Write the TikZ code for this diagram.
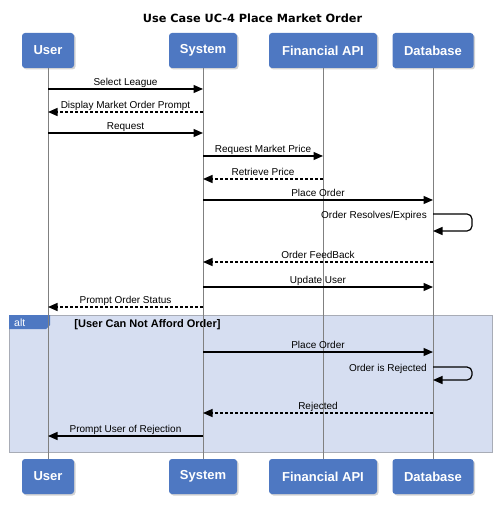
\documentclass[tikz,border=0pt]{standalone}
\usepackage{fontspec}
\setmainfont{Liberation Sans}
\newfontfamily\titlefont{DejaVu Sans}
\usetikzlibrary{arrows.meta,shadows}
\definecolor{boxblue}{HTML}{4E78C2}
\definecolor{altfill}{HTML}{D6DEF1}
\definecolor{altborder}{HTML}{A8ACB6}
\definecolor{lifegray}{HTML}{808080}
\tikzset{
 part/.style={fill=boxblue, rounded corners=3pt, text=white,
   font=\fontsize{13}{14}\selectfont\bfseries, minimum height=35pt, inner sep=0pt,
   drop shadow={shadow xshift=1.5pt,shadow yshift=-1.5pt,opacity=0.35}},
 life/.style={draw=lifegray, line width=1pt},
 msg/.style={line width=1.2pt, -{Triangle[length=9.5pt,width=8pt]}},
 reply/.style={msg, dash pattern=on 3pt off 2pt},
 lbl/.style={font=\fontsize{10}{11}\selectfont, inner sep=0pt, anchor=base},
 lblr/.style={lbl, anchor=base east},
}
\begin{document}
\begin{tikzpicture}[x=1pt,y=-1pt]
\useasboundingbox (0,0) rectangle (498,510);
\def\xu{48}\def\xs{203}\def\xf{323}\def\xd{433}
% title
\node[font=\titlefont\bfseries\fontsize{11.3}{13}\selectfont, anchor=base, inner sep=0pt] (title) at (252.5,22.5) {Use Case UC-4 Place Market Order};
% alt frame
\node[draw=altborder, fill=altfill, line width=0.8pt, minimum width=483pt, minimum height=137pt, inner sep=0pt, anchor=north west] (alt) at (9,315) {};
\fill[boxblue] (alt.north west) -- (50,315) -- (50,325) -- (46,329) -- (9,329) -- cycle;
\node[text=white, font=\fontsize{10.5}{11}\selectfont, anchor=base west, inner sep=0pt] (altlbl) at (14,326) {alt};
\node[font=\fontsize{11}{12}\selectfont\bfseries, anchor=base, inner sep=0pt] (guard) at (147.5,327) {[User Can Not Afford Order]};
% participants
\node[part, minimum width=52pt] (uT) at (\xu,50.5) {User};
\node[part, minimum width=68pt] (sT) at (\xs,50.5) {System};
\node[part, minimum width=108pt] (fT) at (\xf,50.5) {Financial API};
\node[part, minimum width=81pt] (dT) at (\xd,50.5) {Database};
\node[part, minimum width=52pt] (uB) at (\xu,476.5) {User};
\node[part, minimum width=68pt] (sB) at (\xs,476.5) {System};
\node[part, minimum width=108pt] (fB) at (\xf,476.5) {Financial API};
\node[part, minimum width=81pt] (dB) at (\xd,476.5) {Database};
% lifelines
\draw[life] (uT.south) -- (uB.north);
\draw[life] (sT.south) -- (sB.north);
\draw[life] (fT.south) -- (fB.north);
\draw[life] (dT.south) -- (dB.north);
% message anchor points
\coordinate (a1) at (\xu,89);  \coordinate (b1) at (\xs,89);
\coordinate (a2) at (\xs,112); \coordinate (b2) at (\xu,112);
\coordinate (a3) at (\xu,133); \coordinate (b3) at (\xs,133);
\coordinate (a4) at (\xs,156); \coordinate (b4) at (\xf,156);
\coordinate (a5) at (\xf,179); \coordinate (b5) at (\xs,179);
\coordinate (a6) at (\xs,200); \coordinate (b6) at (\xd,200);
\coordinate (a7) at (\xd,214); \coordinate (b7) at (\xd,231);
\coordinate (a8) at (\xd,262); \coordinate (b8) at (\xs,262);
\coordinate (a9) at (\xs,287); \coordinate (b9) at (\xd,287);
\coordinate (a10) at (\xs,307); \coordinate (b10) at (\xu,307);
\coordinate (a11) at (\xs,352); \coordinate (b11) at (\xd,352);
\coordinate (a12) at (\xd,367); \coordinate (b12) at (\xd,380);
\coordinate (a13) at (\xd,413); \coordinate (b13) at (\xs,413);
\coordinate (a14) at (\xs,436); \coordinate (b14) at (\xu,436);
% messages
\draw[msg] (a1) -- (b1);
\node[lbl] (l1) at ({(\xu+\xs)/2},85.5) {Select League};
\draw[reply] (a2) -- (b2);
\node[lbl] (l2) at ({(\xu+\xs)/2},108.5) {Display Market Order Prompt};
\draw[msg] (a3) -- (b3);
\node[lbl] (l3) at ({(\xu+\xs)/2},129.5) {Request};
\draw[msg] (a4) -- (b4);
\node[lbl] (l4) at ({(\xs+\xf)/2},152.5) {Request Market Price};
\draw[reply] (a5) -- (b5);
\node[lbl] (l5) at ({(\xs+\xf)/2},175.5) {Retrieve Price};
\draw[msg] (a6) -- (b6);
\node[lbl] (l6) at ({(\xs+\xd)/2},196.5) {Place Order};
\draw[msg, rounded corners=5pt] (a7) -- ++(39,0) -- ++(0,17) -- (b7);
\node[lblr] (l7) at (427,218.5) {Order Resolves/Expires};
\draw[reply] (a8) -- (b8);
\node[lbl] (l8) at ({(\xs+\xd)/2},258.5) {Order FeedBack};
\draw[msg] (a9) -- (b9);
\node[lbl] (l9) at ({(\xs+\xd)/2},283.5) {Update User};
\draw[reply] (a10) -- (b10);
\node[lbl] (l10) at ({(\xu+\xs)/2},303.5) {Prompt Order Status};
\draw[msg] (a11) -- (b11);
\node[lbl] (l11) at ({(\xs+\xd)/2},348.5) {Place Order};
\draw[msg, rounded corners=5pt] (a12) -- ++(39,0) -- ++(0,13) -- (b12);
\node[lblr] (l12) at (427,371) {Order is Rejected};
\draw[reply] (a13) -- (b13);
\node[lbl] (l13) at ({(\xs+\xd)/2},409.5) {Rejected};
\draw[msg] (a14) -- (b14);
\node[lbl] (l14) at ({(\xu+\xs)/2},432.5) {Prompt User of Rejection};
\end{tikzpicture}
\end{document}
